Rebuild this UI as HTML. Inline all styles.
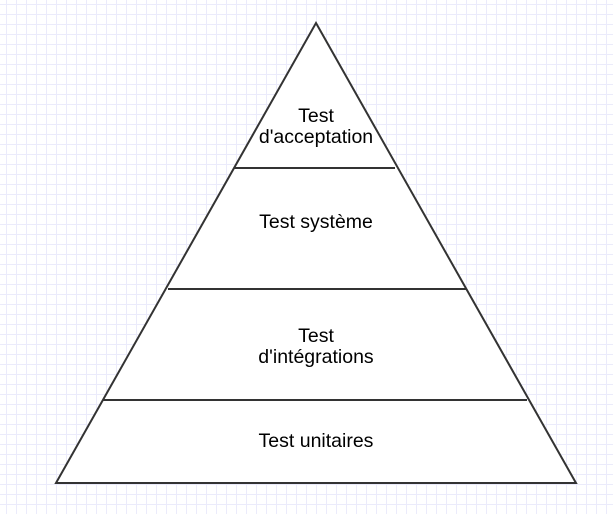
<!DOCTYPE html>
<html><head><style>
html,body{margin:0;padding:0;}
body{width:613px;height:514px;background-color:#fff;
background-image:linear-gradient(to right,#ebebfb 1px,transparent 1px),linear-gradient(to bottom,#ebebfb 1px,transparent 1px);
background-size:10px 10px;background-position:6px 4px;}
</style></head><body>
<svg width="613" height="514" style="position:absolute;left:0;top:0" font-family="Liberation Sans, sans-serif" font-size="19.5" text-anchor="middle">
<polygon points="316,23 576,483 56,483" fill="#fff" stroke="#333" stroke-width="2"/>
<line x1="234" y1="168" x2="395" y2="168" stroke="#333" stroke-width="2"/>
<line x1="168" y1="289" x2="466" y2="289" stroke="#333" stroke-width="2"/>
<line x1="103" y1="400" x2="527" y2="400" stroke="#333" stroke-width="2"/>
<text x="316" y="122">Test</text>
<text x="316" y="143">d'acceptation</text>
<text x="316" y="228">Test système</text>
<text x="316" y="342">Test</text>
<text x="316" y="363">d'intégrations</text>
<text x="316" y="447">Test unitaires</text>
</svg>
</body></html>
